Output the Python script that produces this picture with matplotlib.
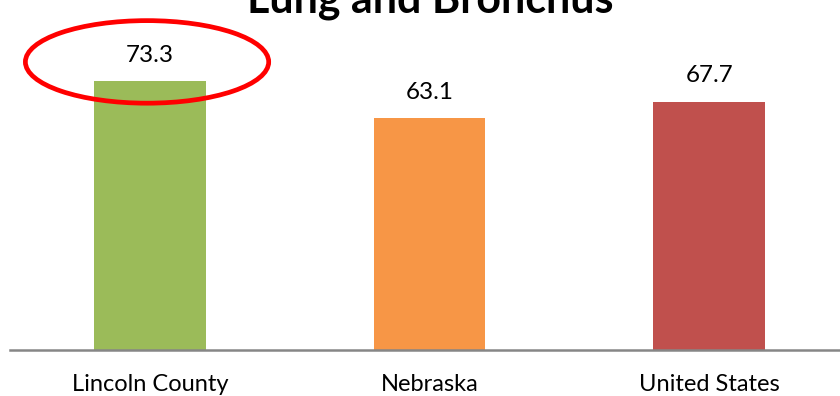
import matplotlib
matplotlib.use("Agg")
import matplotlib.pyplot as plt
from matplotlib.patches import Ellipse

categories = ["Lincoln County", "Nebraska", "United States"]
values = [73.3, 63.1, 67.7]
colors = ["#9BBB59", "#F79646", "#C0504D"]
title = "Lung and Bronchus"

plt.rcParams['font.family'] = ['Lato', 'DejaVu Sans']

W, H = 840, 396
fig = plt.figure(figsize=(W / 100, H / 100), dpi=100)
# axes: left 10px, right 849px, bottom at y=350px, top above figure
ax = fig.add_axes([10 / W, (H - 350) / H, 839 / W, 367 / H])
x = list(range(len(categories)))
ax.bar(x, values, width=0.4, color=colors)
ax.set_xlim(-0.5, 2.5)
ax.set_ylim(0, 100)
for s in ["top", "right", "left"]:
    ax.spines[s].set_visible(False)
ax.spines["bottom"].set_color("#868686")
ax.spines["bottom"].set_linewidth(1.8)
ax.set_yticks([])
ax.set_xticks(x)
ax.set_xticklabels(categories, fontsize=17)
ax.tick_params(axis="x", length=0, pad=17)

for xi, v in zip(x, values):
    ax.annotate(f"{v:.1f}", (xi, v), xytext=(0, 11), textcoords="offset points",
                ha="center", va="bottom", fontsize=17.5)

ell = Ellipse((-0.01, 78.5), 0.87, 22.5, fill=False, edgecolor="#FF0000",
              linewidth=3.4, clip_on=False)
ax.add_patch(ell)

fig.text(430 / W, (H - 12) / H, title, ha="center", va="baseline",
         fontsize=31, fontweight="bold")

fig.savefig("out.png", dpi=100)
